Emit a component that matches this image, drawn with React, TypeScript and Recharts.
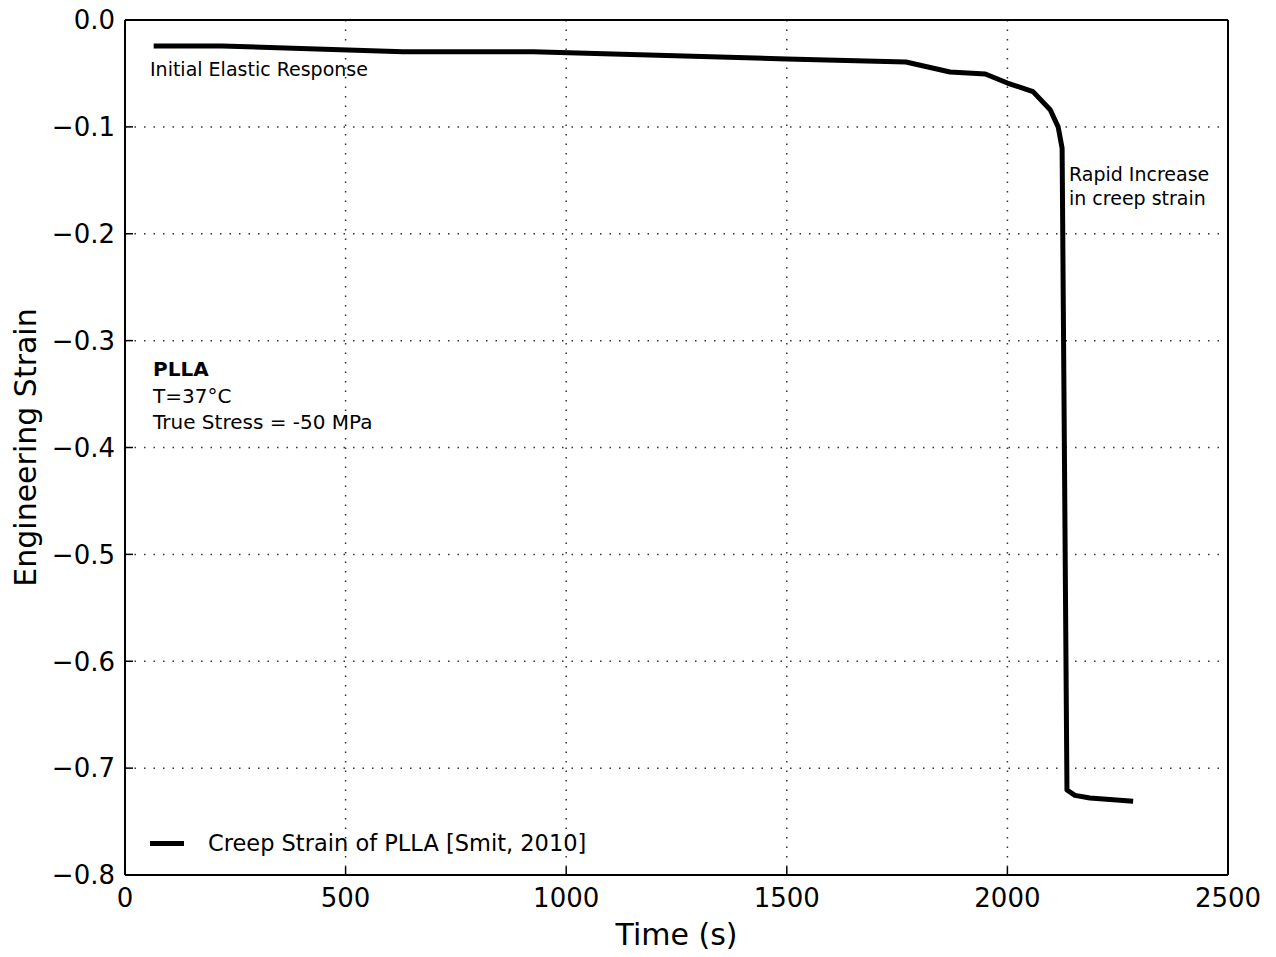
import React from "react";
import {
  LineChart,
  Line,
  XAxis,
  YAxis,
  CartesianGrid,
} from "recharts";

const FONT = "'DejaVu Sans', Verdana, sans-serif";

// time (s) vs engineering strain
const timeS = [65, 220, 630, 925, 1500, 1770, 1870, 1950, 2000, 2058, 2097, 2115, 2124, 2135, 2153, 2187, 2285];
const strain = [
  -0.0243, -0.0243, -0.0297, -0.0297, -0.0365, -0.0393, -0.0487, -0.0505, -0.059,
  -0.067, -0.084, -0.1, -0.12, -0.7205, -0.7255, -0.728, -0.731,
];
const xTicks = [0, 500, 1000, 1500, 2000, 2500];
const yTicks = [0, -0.1, -0.2, -0.3, -0.4, -0.5, -0.6, -0.7, -0.8];

const data = timeS.map((t, i) => ({ t, strain: strain[i] }));

const fmtY = (v: number) => (v === 0 ? "0.0" : "\u2212" + Math.abs(v).toFixed(1));

const BottomTick = ({ x, y, payload }: any) => (
  <g>
    <line x1={x} y1={y} x2={x} y2={y - 8} stroke="#000" strokeWidth={1.5} />
    <text x={x} y={y + 32} textAnchor="middle" fontSize={26} fontFamily={FONT} fill="#000">
      {payload.value}
    </text>
  </g>
);

const LeftTick = ({ x, y, payload }: any) => (
  <g>
    <line x1={x} y1={y} x2={x + 8} y2={y} stroke="#000" strokeWidth={1.5} />
    <text x={x - 10} y={y} dy="0.36em" textAnchor="end" fontSize={26} fontFamily={FONT} fill="#000">
      {fmtY(payload.value)}
    </text>
  </g>
);

// inward ticks on the top and right edges; the end ticks sit on the frame
const TopTick = ({ x, y, payload }: any) =>
  payload.value > 0 && payload.value < 2500 ? (
    <line x1={x} y1={y} x2={x} y2={y + 8} stroke="#000" strokeWidth={1.5} />
  ) : (
    <g />
  );

const RightTick = ({ x, y, payload }: any) =>
  payload.value < 0 && payload.value > -0.8 ? (
    <line x1={x} y1={y} x2={x - 8} y2={y} stroke="#000" strokeWidth={1.5} />
  ) : (
    <g />
  );

const note = (left: number, top: number, size: number, text: string, bold = false) => (
  <div
    style={{
      position: "absolute",
      left,
      top,
      fontSize: size,
      fontFamily: FONT,
      fontWeight: bold ? "bold" : "normal",
      lineHeight: 1,
      transform: "translateY(-50%)",
      whiteSpace: "nowrap",
      color: "#000",
    }}
  >
    {text}
  </div>
);

export default function App() {
  const axisLine = { stroke: "#000", strokeWidth: 2 };
  return (
    <div style={{ position: "relative", width: 1260, height: 957, marginTop: -8, background: "#fff" }}>
      <LineChart
        width={1260}
        height={957}
        data={data}
        margin={{ top: 19, right: 39, bottom: 22, left: 17 }}
      >
        <CartesianGrid stroke="#333" strokeWidth={1.5} strokeDasharray="1.5 8" />
        <XAxis
          dataKey="t"
          type="number"
          domain={[0, 2500]}
          ticks={xTicks}
          height={60}
          tickSize={0}
          tickMargin={0}
          tickLine={false}
          axisLine={axisLine}
          tick={(p: any) => <BottomTick {...p} />}
          label={{
            value: "Time (s)",
            position: "insideBottom",
            offset: -10,
            style: { fontSize: 30, fontFamily: FONT, fill: "#000" },
          }}
        />
        <XAxis
          xAxisId="top"
          orientation="top"
          type="number"
          domain={[0, 2500]}
          ticks={xTicks}
          height={1}
          tickSize={0}
          tickMargin={0}
          tickLine={false}
          axisLine={axisLine}
          tick={(p: any) => <TopTick {...p} />}
        />
        <YAxis
          type="number"
          domain={[-0.8, 0]}
          ticks={yTicks}
          width={100}
          tickSize={0}
          tickMargin={0}
          tickLine={false}
          axisLine={axisLine}
          tick={(p: any) => <LeftTick {...p} />}
          label={{
            value: "Engineering Strain",
            angle: -90,
            position: "insideLeft",
            offset: 0,
            style: { fontSize: 30, fontFamily: FONT, fill: "#000", textAnchor: "middle" },
          }}
        />
        <YAxis
          yAxisId="right"
          orientation="right"
          type="number"
          domain={[-0.8, 0]}
          ticks={yTicks}
          width={1}
          tickSize={0}
          tickMargin={0}
          tickLine={false}
          axisLine={axisLine}
          tick={(p: any) => <RightTick {...p} />}
        />
        <Line
          type="linear"
          dataKey="strain"
          name="Creep Strain of PLLA [Smit, 2010]"
          stroke="#000"
          strokeWidth={5}
          strokeLinejoin="round"
          dot={false}
          activeDot={false}
          isAnimationActive={false}
        />
      </LineChart>

      {note(142, 69, 19, "Initial Elastic Response")}
      {note(1061, 174, 19, "Rapid Increase")}
      {note(1061, 198, 19, "in creep strain")}
      {note(145, 369, 20, "PLLA", true)}
      {note(145, 396, 20, "T=37\u00b0C")}
      {note(145, 422, 20, "True Stress = -50 MPa")}

      {/* legend */}
      <div
        style={{
          position: "absolute",
          left: 142,
          top: 841,
          width: 34,
          height: 5,
          background: "#000",
        }}
      />
      {note(200, 843, 22.5, "Creep Strain of PLLA [Smit, 2010]")}
    </div>
  );
}
